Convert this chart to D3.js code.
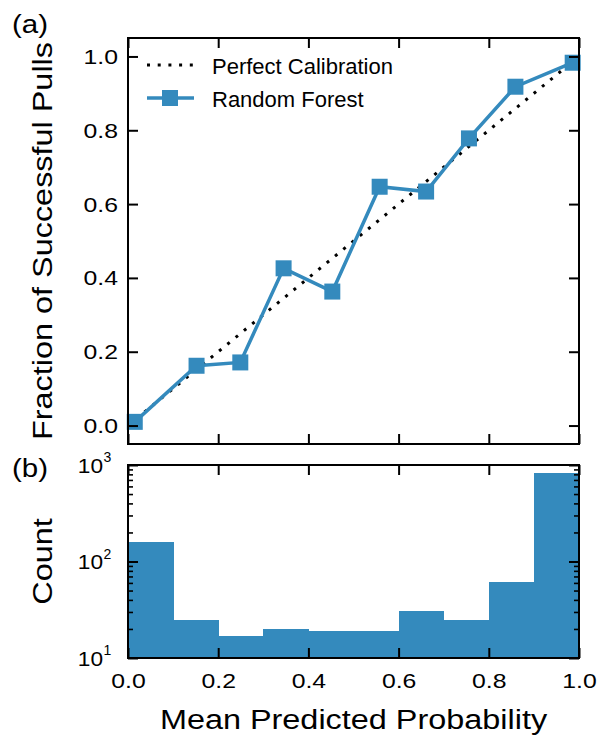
<!DOCTYPE html>
<html>
<head>
<meta charset="utf-8">
<script src="https://cdn.jsdelivr.net/npm/d3@7"></script>
<style>
  body { margin: 0; background: #fff; }
  text { font-family: "Liberation Sans", Arial, sans-serif; fill: #000; }
</style>
</head>
<body>
<script>
// calibration curve (a)
var meanPred = [0.015, 0.152, 0.249, 0.345, 0.453, 0.558, 0.661, 0.756, 0.859, 0.986];
var fracPos  = [0.010, 0.162, 0.171, 0.426, 0.363, 0.647, 0.634, 0.778, 0.918, 0.983];
var perfect  = [[0, 0], [1, 1]];

// histogram (b)
var binEdges = [0, 0.1, 0.2, 0.3, 0.4, 0.5, 0.6, 0.7, 0.8, 0.9, 1.0];
var counts   = [160, 25, 17, 20, 19, 19, 31, 25, 61, 830];

var xTicks    = [0, 0.2, 0.4, 0.6, 0.8, 1.0];
var yTicks    = [0, 0.2, 0.4, 0.6, 0.8, 1.0];
var logMajor  = [10, 100, 1000];
var logMinor  = [20, 30, 40, 50, 60, 70, 80, 90, 200, 300, 400, 500, 600, 700, 800, 900];

var blue = "#348ABD";

var width = 598, height = 738,
    left = 128, right = 579,
    topA = 38, botA = 444,
    topB = 465, botB = 658;

var svg = d3.select("body").append("svg")
    .attr("width", width)
    .attr("height", height);

var x = d3.scaleLinear().domain([0, 1]).range([left, right]);
var yA = d3.scaleLinear().domain([-0.05, 1.05]).range([botA, topA]);
var yB = d3.scaleLog().domain([10, 1000]).range([botB, topB]);

// stretch glyphs a bit, the figure's font runs wider than Liberation Sans
function widen(sel, k) {
  sel.each(function() {
    var w = this.getComputedTextLength();
    d3.select(this).attr("textLength", w * k).attr("lengthAdjust", "spacingAndGlyphs");
  });
}

function styleAxis(g, sw) {
  g.select(".domain").remove();
  g.selectAll("line").attr("stroke", "#000").attr("stroke-width", sw);
  g.selectAll("text").attr("font-size", 21).attr("font-family", "Liberation Sans, Arial, sans-serif");
}

/* ---- panel (a) ---- */
var gA = svg.append("g");

gA.append("path")
  .datum(perfect)
  .attr("fill", "none")
  .attr("stroke", "#000")
  .attr("stroke-width", 3)
  .attr("stroke-dasharray", "3,7.7")
  .attr("d", d3.line().x(function(d) { return x(d[0]); }).y(function(d) { return yA(d[1]); }));

var pts = meanPred.map(function(v, i) { return [v, fracPos[i]]; });

gA.append("path")
  .datum(pts)
  .attr("fill", "none")
  .attr("stroke", blue)
  .attr("stroke-width", 3.5)
  .attr("d", d3.line().x(function(d) { return x(d[0]); }).y(function(d) { return yA(d[1]); }));

gA.selectAll("rect.mk")
  .data(pts)
  .enter().append("rect")
  .attr("class", "mk")
  .attr("x", function(d) { return x(d[0]) - 8; })
  .attr("y", function(d) { return yA(d[1]) - 8; })
  .attr("width", 16)
  .attr("height", 16)
  .attr("fill", blue);

gA.append("g").attr("transform", "translate(0," + botA + ")")
  .call(d3.axisBottom(x).tickValues(xTicks).tickSize(-10).tickFormat(""))
  .call(styleAxis, 2);
gA.append("g").attr("transform", "translate(0," + topA + ")")
  .call(d3.axisTop(x).tickValues(xTicks).tickSize(-10).tickFormat(""))
  .call(styleAxis, 2);
var yAxA = gA.append("g").attr("transform", "translate(" + left + ",0)")
  .call(d3.axisLeft(yA).tickValues(yTicks).tickSize(-10).tickPadding(10).tickFormat(d3.format(".1f")))
  .call(styleAxis, 2);
yAxA.selectAll("text").attr("dy", "0.33em").call(widen, 1.18);
gA.append("g").attr("transform", "translate(" + right + ",0)")
  .call(d3.axisRight(yA).tickValues(yTicks).tickSize(-10).tickFormat(""))
  .call(styleAxis, 2);

gA.append("rect")
  .attr("x", left).attr("y", topA)
  .attr("width", right - left).attr("height", botA - topA)
  .attr("fill", "none").attr("stroke", "#000").attr("stroke-width", 2);

// legend
var leg = gA.append("g");
leg.append("line")
  .attr("x1", 147).attr("x2", 193).attr("y1", 65).attr("y2", 65)
  .attr("stroke", "#000").attr("stroke-width", 3).attr("stroke-dasharray", "3,7.7");
leg.append("text").attr("x", 212).attr("y", 74).attr("font-size", 22).text("Perfect Calibration");
leg.append("line")
  .attr("x1", 147).attr("x2", 194).attr("y1", 98).attr("y2", 98)
  .attr("stroke", blue).attr("stroke-width", 3.5);
leg.append("rect")
  .attr("x", 170 - 8).attr("y", 98 - 8).attr("width", 16).attr("height", 16)
  .attr("fill", blue);
leg.append("text").attr("x", 212).attr("y", 107).attr("font-size", 22).text("Random Forest");

/* ---- panel (b) ---- */
var gB = svg.append("g");

gB.selectAll("rect.bar")
  .data(counts)
  .enter().append("rect")
  .attr("class", "bar")
  .attr("x", function(d, i) { return x(binEdges[i]); })
  .attr("y", function(d) { return yB(d); })
  .attr("width", function(d, i) { return x(binEdges[i + 1]) - x(binEdges[i]) + 0.6; })
  .attr("height", function(d) { return botB - yB(d); })
  .attr("fill", blue)
  .attr("shape-rendering", "crispEdges");

var xAxB = gB.append("g").attr("transform", "translate(0," + botB + ")")
  .call(d3.axisBottom(x).tickValues(xTicks).tickSize(-10).tickPadding(15).tickFormat(d3.format(".1f")))
  .call(styleAxis, 2);
xAxB.selectAll("text").call(widen, 1.18);
gB.append("g").attr("transform", "translate(0," + topB + ")")
  .call(d3.axisTop(x).tickValues(xTicks).tickSize(-10).tickFormat(""))
  .call(styleAxis, 2);

[[left, d3.axisLeft], [right, d3.axisRight]].forEach(function(s) {
  gB.append("g").attr("transform", "translate(" + s[0] + ",0)")
    .call(s[1](yB).tickValues(logMajor).tickSize(-10).tickFormat(""))
    .call(styleAxis, 2);
  gB.append("g").attr("transform", "translate(" + s[0] + ",0)")
    .call(s[1](yB).tickValues(logMinor).tickSize(-5).tickFormat(""))
    .call(styleAxis, 1.6);
});

// 10^n labels
var logLab = gB.selectAll("g.loglab")
  .data(logMajor)
  .enter().append("g")
  .attr("class", "loglab")
  .attr("transform", function(d) { return "translate(0," + yB(d) + ")"; });
logLab.append("text")
  .attr("x", 103).attr("y", 7.5)
  .attr("text-anchor", "end")
  .attr("font-size", 21)
  .text("10")
  .call(widen, 1.08);
logLab.append("text")
  .attr("x", 103.5).attr("y", -3)
  .attr("font-size", 14)
  .text(function(d) { return Math.round(Math.log10(d)); });

gB.append("rect")
  .attr("x", left).attr("y", topB)
  .attr("width", right - left).attr("height", botB - topB)
  .attr("fill", "none").attr("stroke", "#000").attr("stroke-width", 2);

/* ---- labels ---- */
svg.append("text")
  .attr("transform", "translate(52," + (topA + botA) / 2 + ") rotate(-90)")
  .attr("text-anchor", "middle")
  .attr("font-size", 27)
  .text("Fraction of Successful Pulls")
  .call(widen, 1.2);

svg.append("text")
  .attr("transform", "translate(52," + (topB + botB) / 2 + ") rotate(-90)")
  .attr("text-anchor", "middle")
  .attr("font-size", 27)
  .text("Count")
  .call(widen, 1.2);

svg.append("text")
  .attr("x", (left + right) / 2).attr("y", 729)
  .attr("text-anchor", "middle")
  .attr("font-size", 27)
  .text("Mean Predicted Probability")
  .call(widen, 1.2);

svg.append("text").attr("x", 12).attr("y", 32.5).attr("font-size", 25).text("(a)").call(widen, 1.18);
svg.append("text").attr("x", 12).attr("y", 476.5).attr("font-size", 25).text("(b)").call(widen, 1.18);
</script>
</body>
</html>
